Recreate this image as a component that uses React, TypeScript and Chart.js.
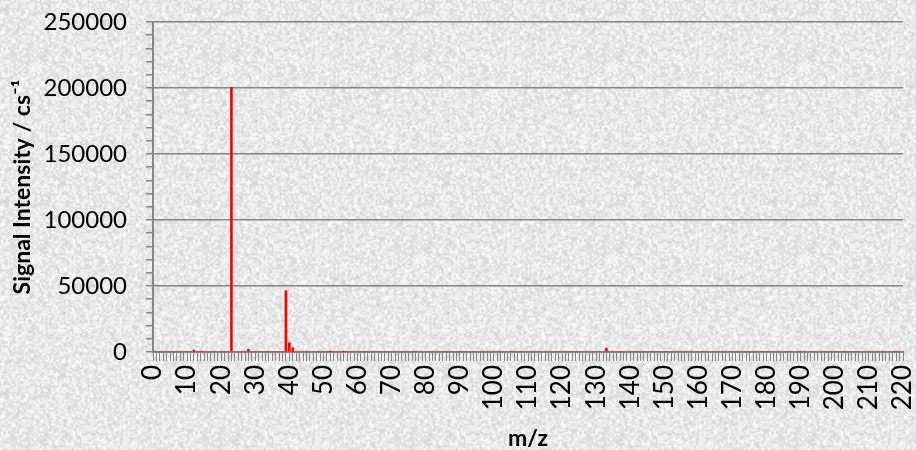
import React, { useEffect, useRef } from "react";
import { Chart, registerables } from "chart.js";

Chart.register(...registerables);

// m/z categories 0..220
const mzMin = 0;
const mzMax = 220;
// observed peaks
const peakMasses = [12, 14, 23, 28, 39, 40, 41, 52, 56, 133];
const peakIntensities = [1500, 500, 200500, 2000, 46500, 7000, 3300, 300, 300, 3000];
const yTickStep = 10000;
const yLabelStep = 50000;
const yMax = 250000;
const xLabelStep = 10;

const GRID = "#868686";

function makeTexture(): HTMLCanvasElement {
  const size = 192;
  const cell = 2;
  const n = size / cell;
  const c = document.createElement("canvas");
  c.width = size;
  c.height = size;
  const g = c.getContext("2d")!;
  const img = g.createImageData(size, size);
  const hash = (x: number, y: number) => {
    x = ((x % n) + n) % n;
    y = ((y % n) + n) % n;
    let h = (Math.imul(x, 374761393) + Math.imul(y, 668265263)) | 0;
    h = Math.imul(h ^ (h >>> 13), 1274126177);
    h = h ^ (h >>> 16);
    return (h >>> 0) / 4294967295;
  };
  for (let y = 0; y < size; y++) {
    for (let x = 0; x < size; x++) {
      const gx = x / cell;
      const gy = y / cell;
      const x0 = Math.floor(gx);
      const y0 = Math.floor(gy);
      const fx = gx - x0;
      const fy = gy - y0;
      const sx = fx * fx * (3 - 2 * fx);
      const sy = fy * fy * (3 - 2 * fy);
      const a = hash(x0, y0);
      const b = hash(x0 + 1, y0);
      const cc = hash(x0, y0 + 1);
      const d = hash(x0 + 1, y0 + 1);
      const v = a + (b - a) * sx + (cc - a) * sy + (a - b - cc + d) * sx * sy;
      const gray = Math.round(232 + (v - 0.5) * 38);
      const i = (y * size + x) * 4;
      img.data[i] = gray;
      img.data[i + 1] = gray;
      img.data[i + 2] = gray;
      img.data[i + 3] = 255;
    }
  }
  g.putImageData(img, 0, 0);
  return c;
}

export default function App() {
  const ref = useRef<HTMLCanvasElement | null>(null);

  useEffect(() => {
    document.body.style.margin = "0";
    const labels: string[] = [];
    const values: number[] = [];
    for (let m = mzMin; m <= mzMax; m++) {
      labels.push(String(m));
      const k = peakMasses.indexOf(m);
      values.push(k >= 0 ? peakIntensities[k] : 0);
    }
    const tex = makeTexture();
    const bgPlugin = {
      id: "texbg",
      beforeDraw(chart: any) {
        const ctx = chart.ctx as CanvasRenderingContext2D;
        ctx.save();
        const pat = ctx.createPattern(tex, "repeat");
        if (pat) ctx.fillStyle = pat;
        ctx.fillRect(0, 0, chart.width, chart.height);
        ctx.restore();
      },
    };
    const chart = new Chart(ref.current!, {
      type: "bar",
      data: {
        labels,
        datasets: [
          {
            data: values,
            backgroundColor: "#ff0000",
            borderWidth: 0,
            barThickness: 2,
          },
        ],
      },
      plugins: [bgPlugin],
      options: {
        animation: false,
        responsive: true,
        maintainAspectRatio: false,
        layout: { padding: { top: 22, right: 13, left: 0, bottom: 0 } },
        plugins: {
          legend: { display: false },
          tooltip: { enabled: false },
        },
        scales: {
          x: {
            type: "category",
            offset: false,
            grid: {
              offset: false,
              drawOnChartArea: false,
              drawTicks: true,
              tickLength: 9,
              color: GRID,
              tickColor: GRID,
              lineWidth: 1,
            },
            border: { display: true, color: GRID, width: 2 },
            ticks: {
              autoSkip: false,
              minRotation: 90,
              maxRotation: 90,
              padding: 4,
              color: "#000",
              font: { family: "Lato", size: 26 },
              callback: (_v: any, i: number) => (i % xLabelStep === 0 ? String(i) : ""),
            },
            title: {
              display: true,
              text: "m/z",
              color: "#000",
              font: { family: "Lato", size: 23, weight: "bold", lineHeight: 1 },
              padding: { top: 0, bottom: 0 },
            },
            afterFit: (s: any) => {
              s.height = 98;
              s.paddingLeft = 0;
              s.paddingRight = 0;
            },
          },
          y: {
            min: 0,
            max: yMax,
            ticks: {
              stepSize: yTickStep,
              maxTicksLimit: 100,
              autoSkip: false,
              padding: 19,
              color: "#000",
              font: { family: "Lato", size: 24 },
              callback: (v: any) => (Number(v) % yLabelStep === 0 ? String(v) : ""),
            },
            grid: {
              color: (c: any) => (c.tick && c.tick.value % yLabelStep === 0 ? GRID : "rgba(0,0,0,0)"),
              tickColor: GRID,
              tickLength: 7,
              lineWidth: 1.5,
            },
            border: { display: true, color: GRID, width: 2 },
            title: {
              display: true,
              text: "Signal Intensity / cs⁻¹",
              color: "#000",
              font: { family: "Lato", size: 23, weight: "bold", lineHeight: 1.2 },
              padding: { top: 9, bottom: 0 },
            },
            afterFit: (s: any) => {
              s.width = 153;
              s.paddingTop = 0;
              s.paddingBottom = 0;
            },
          },
        },
      },
    });
    return () => chart.destroy();
  }, []);

  return (
    <div style={{ width: 916, height: 450, position: "relative" }}>
      <canvas ref={ref} />
    </div>
  );
}
